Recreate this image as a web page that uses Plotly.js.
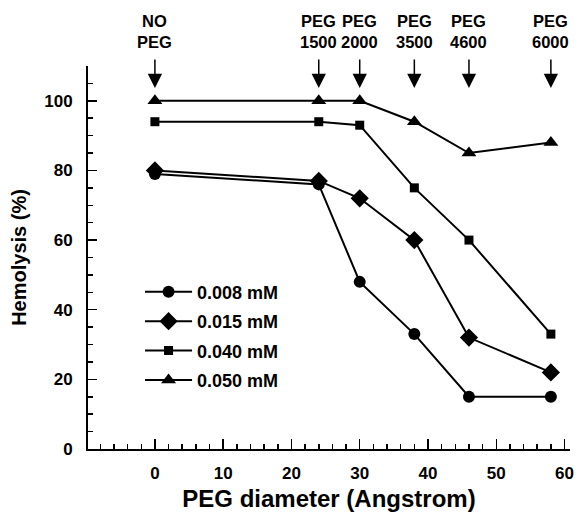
<!DOCTYPE html>
<html>
<head>
<meta charset="utf-8">
<script src="https://cdn.plot.ly/plotly-3.0.1.min.js"></script>
<style>html,body{margin:0;padding:0;background:#fff;}#chart{width:581px;height:512px;}</style>
</head>
<body>
<div id="chart"></div>
<script>
const pegDiameter = [0, 24, 30, 38, 46, 58];
const pegLabels = ["NO<br>PEG", "PEG<br>1500", "PEG<br>2000", "PEG<br>3500", "PEG<br>4600", "PEG<br>6000"];
const seriesNames = ["0.008 mM", "0.015 mM", "0.040 mM", "0.050 mM"];
const hemo008 = [79, 76, 48, 33, 15, 15];
const hemo015 = [80, 77, 72, 60, 32, 22];
const hemo040 = [94, 94, 93, 75, 60, 33];
const hemo050 = [100, 100, 100, 94, 85, 88];

const FONT = "Liberation Sans, Arial, Helvetica, sans-serif";
const symbols = ["circle", "diamond", "square", "triangle-up"];
const sizes = [12, 14, 9, 13];
const allY = [hemo008, hemo015, hemo040, hemo050];

const traces = allY.map((ys, i) => ({
  x: pegDiameter, y: ys, name: seriesNames[i], type: "scatter", mode: "lines+markers",
  line: {color: "#000", width: 2},
  marker: {symbol: symbols[i], size: sizes[i], color: "#000"},
  legendgroup: "g" + i,
  cliponaxis: false
}));

const annotations = [];
pegDiameter.forEach((xv, i) => {
  annotations.push({
    x: xv, xref: "x", y: 1.091, yref: "paper", text: pegLabels[i], showarrow: false,
    xanchor: "center", yanchor: "middle",
    font: {family: FONT, size: 16.5, color: "#000", weight: "bold"}
  });
  annotations.push({
    x: xv, xref: "x", y: 103.7, yref: "y", text: "", showarrow: true,
    ax: 0, ay: -30, arrowhead: 2, arrowsize: 1.9, arrowwidth: 1.5, arrowcolor: "#000"
  });
});

const layout = {
  width: 581, height: 512,
  margin: {l: 88, r: 11, t: 66, b: 63},
  paper_bgcolor: "#fff", plot_bgcolor: "#fff",
  showlegend: true,
  legend: {
    x: 0.108, y: 0.458, xanchor: "left", yanchor: "top",
    bgcolor: "rgba(0,0,0,0)", borderwidth: 0,
    traceorder: "grouped", tracegroupgap: 3, itemwidth: 47,
    font: {family: FONT, size: 18, color: "#000", weight: "bold"}
  },
  xaxis: {
    range: [-9.8, 60.8], showgrid: false, zeroline: false,
    showline: true, linecolor: "#000", linewidth: 2,
    ticks: "inside", ticklen: 10, tickwidth: 1.5, tickcolor: "#000",
    tick0: 0, dtick: 10, ticklabelstandoff: 8,
    minor: {ticks: "inside", ticklen: 5, tickwidth: 1.5, tickcolor: "#000", dtick: 2, tick0: 0, showgrid: false},
    tickfont: {family: FONT, size: 17, color: "#000", weight: "bold"},
    title: {text: "PEG diameter (Angstrom)", standoff: 12, font: {family: FONT, size: 24, color: "#000", weight: "bold"}}
  },
  yaxis: {
    range: [0, 110], showgrid: false, zeroline: false,
    showline: true, linecolor: "#000", linewidth: 2,
    ticks: "inside", ticklen: 9, tickwidth: 1.5, tickcolor: "#000",
    tick0: 0, dtick: 20, ticklabelstandoff: 10,
    minor: {ticks: "inside", ticklen: 5, tickwidth: 1.5, tickcolor: "#000", dtick: 5, tick0: 0, showgrid: false},
    tickfont: {family: FONT, size: 17, color: "#000", weight: "bold"},
    title: {text: "Hemolysis (%)", standoff: 12, font: {family: FONT, size: 20, color: "#000", weight: "bold"}}
  },
  annotations: annotations
};

Plotly.newPlot("chart", traces, layout, {staticPlot: true, displayModeBar: false});
</script>
</body>
</html>
